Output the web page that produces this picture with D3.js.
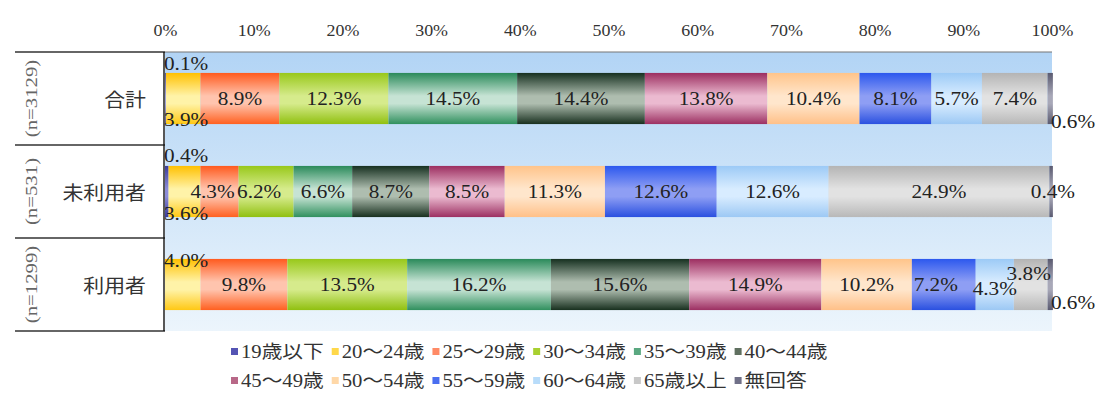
<!DOCTYPE html>
<html><head><meta charset="utf-8">
<script src="https://cdn.jsdelivr.net/npm/d3@7"></script>
<style>body{margin:0;background:#fff}svg{display:block}</style>
</head><body><svg id="c" width="1097" height="397"></svg>
<script>
// ---- data ----
const categories = ["合計", "未利用者", "利用者"];
const sampleSizes = ["(n=3129)", "(n=531)", "(n=1299)"];
const seriesNames = ["19歳以下", "20～24歳", "25～29歳", "30～34歳", "35～39歳", "40～44歳",
                     "45～49歳", "50～54歳", "55～59歳", "60～64歳", "65歳以上", "無回答"];
const totalValues   = [0.1, 3.9, 8.9, 12.3, 14.5, 14.4, 13.8, 10.4, 8.1, 5.7, 7.4, 0.6];
const nonUserValues = [0.4, 3.6, 4.3, 6.2, 6.6, 8.7, 8.5, 11.3, 12.6, 12.6, 24.9, 0.4];
const userValues    = [0.0, 4.0, 9.8, 13.5, 16.2, 15.6, 14.9, 10.2, 7.2, 4.3, 3.8, 0.6];
const tickValues = [0, 10, 20, 30, 40, 50, 60, 70, 80, 90, 100];
const tickLabels = ["0%", "10%", "20%", "30%", "40%", "50%", "60%", "70%", "80%", "90%", "100%"];

// ---- styles ----
const gradStops = [
  ["#3b3b9a", "#8c8cd8", "#3b3b9a"],
  ["#ffc000", "#fff3a8", "#ffc814"],
  ["#ff5a1e", "#ffc4ae", "#ff6020"],
  ["#98c81a", "#d6eb8c", "#90c010"],
  ["#2a8a5a", "#c6e3d4", "#30905e"],
  ["#163020", "#aebdaf", "#18301f"],
  ["#9c2e60", "#ebbad0", "#9c3062"],
  ["#ffc48a", "#ffe6cc", "#ffc088"],
  ["#2c58ee", "#8e9ef4", "#2a50e0"],
  ["#9ccaf6", "#d8ecff", "#9cc8f4"],
  ["#b4b4b4", "#e2e2e2", "#b8b8b8"],
  ["#5a5a70", "#a8a8b8", "#5a5a70"]
];
const legendColors = ["#5454b4", "#ffd84a", "#ff8a66", "#a8d030", "#5aa880", "#607060",
                      "#b86888", "#ffd8a8", "#4a6ef0", "#b8dcfa", "#c8c8c8", "#707088"];
// special label placements: [row, series, anchor, dx, dy]
const labelTweaks = [
  [0, 0, "start", null, -35], [0, 1, "start", null, 21], [0, 11, "start", null, 23],
  [1, 0, "start", null, -36], [1, 1, "start", null, 22], [1, 2, "middle", -7, 0], [1, 3, "middle", -7, 0],
  [2, 1, "start", null, -24], [2, 10, "middle", -2, -11], [2, 11, "start", null, 18],
  [2, 8, "middle", -8, 0], [2, 9, "middle", 0, 4]
];

const rows = [totalValues, nonUserValues, userValues];
const svg = d3.select("#c");
const pLeft = 165, pRight = 1052, pTop = 52, pBottom = 331;
const serif = "'Liberation Serif','Noto Sans CJK JP',serif";
const cjk = "'Noto Sans CJK JP','Noto Sans CJK SC',sans-serif";

const x = d3.scaleLinear().domain([0, 100]).range([pLeft, pRight]);
const y = d3.scaleBand().domain(categories).range([pTop, pBottom]).paddingInner(0.45).paddingOuter(0.225);

const defs = svg.append("defs");
const bg = defs.append("linearGradient").attr("id", "bg").attr("x1", 0).attr("y1", 0).attr("x2", 0).attr("y2", 1);
bg.append("stop").attr("offset", "0%").attr("stop-color", "#b2d4f5");
bg.append("stop").attr("offset", "100%").attr("stop-color", "#ecf5fc");
gradStops.forEach((s, i) => {
  const g = defs.append("linearGradient").attr("id", "g" + i).attr("x1", 0).attr("y1", 0).attr("x2", 0).attr("y2", 1);
  g.append("stop").attr("offset", "0%").attr("stop-color", s[0]);
  g.append("stop").attr("offset", "45%").attr("stop-color", s[1]);
  g.append("stop").attr("offset", "60%").attr("stop-color", s[1]);
  g.append("stop").attr("offset", "100%").attr("stop-color", s[2]);
});

// plot background
svg.append("rect").attr("x", pLeft).attr("y", pTop).attr("width", pRight - pLeft).attr("height", pBottom - pTop)
  .attr("fill", "url(#bg)");
svg.append("line").attr("x1", pLeft).attr("x2", pRight).attr("y1", pTop).attr("y2", pTop)
  .attr("stroke", "#777").attr("stroke-width", 1.2);

// top axis labels
const axis = d3.axisTop(x).tickValues(tickValues).tickFormat((d, i) => tickLabels[i]).tickSize(0).tickPadding(0);
const ax = svg.append("g").attr("transform", "translate(0,30)").call(axis);
ax.select(".domain").remove();
ax.selectAll(".tick text")
  .attr("font-family", serif).attr("font-size", 16).attr("fill", "#333")
  .attr("dy", "0.35em").attr("y", 0)
  .attr("transform", "scale(1.12,1)");

// stacked bars
const stacked = rows.map(vals => {
  let acc = 0;
  return vals.map((v, i) => { const s = acc; acc += v; return { s, e: acc, v, i }; });
});
stacked.forEach((segs, r) => {
  const g = svg.append("g");
  const yy = y(categories[r]);
  g.selectAll("rect").data(segs.filter(d => d.v > 0)).join("rect")
    .attr("x", d => x(d.s)).attr("y", yy)
    .attr("width", d => Math.max(x(d.e) - x(d.s), 0)).attr("height", y.bandwidth())
    .attr("fill", d => `url(#g${d.i})`);
});

// left table
const tbl = svg.append("g").attr("stroke", "#333").attr("stroke-width", 1.4);
const bounds = [pTop,
  (y(categories[0]) + y.bandwidth() + y(categories[1])) / 2,
  (y(categories[1]) + y.bandwidth() + y(categories[2])) / 2,
  pBottom];
bounds.forEach(b => tbl.append("line").attr("x1", 15).attr("x2", pLeft).attr("y1", b).attr("y2", b));
tbl.append("line").attr("x1", pLeft - 1).attr("x2", pLeft - 1).attr("y1", pTop).attr("y2", pBottom).attr("stroke", "#111");

categories.forEach((c, i) => {
  const cy = y(c) + y.bandwidth() / 2;
  svg.append("text")
    .attr("transform", `translate(146,${cy}) scale(1.1,1)`)
    .attr("text-anchor", "end").attr("dominant-baseline", "central")
    .attr("font-family", cjk).attr("font-size", 19).attr("fill", "#333").text(c);
  svg.append("text")
    .attr("transform", `translate(31,${cy}) rotate(-90) scale(1.3,1)`)
    .attr("text-anchor", "middle").attr("dominant-baseline", "central")
    .attr("font-family", serif).attr("font-size", 16).attr("fill", "#666").text(sampleSizes[i]);
});

// value labels
stacked.forEach((segs, r) => {
  const cy = y(categories[r]) + y.bandwidth() / 2;
  segs.forEach(d => {
    if (d.v <= 0) return;
    const tw = labelTweaks.find(t => t[0] === r && t[1] === d.i);
    let anchor = "middle", px = (x(d.s) + x(d.e)) / 2, py = cy;
    if (d.i === 11 && !tw) px = x(d.e);
    if (tw) {
      anchor = tw[2];
      if (anchor === "start") px = (d.i === 11 ? x(d.e) - 2 : x(0) - 1);
      else px += tw[3];
      py += tw[4];
    }
    svg.append("text")
      .attr("transform", `translate(${px},${py}) scale(1.18,1)`)
      .attr("text-anchor", anchor).attr("dominant-baseline", "central")
      .attr("font-family", serif).attr("font-size", 18).attr("fill", "#222")
      .text(d.v.toFixed(1) + "%");
  });
});

// legend
const legLines = [seriesNames.slice(0, 6), seriesNames.slice(6)];
const legY = [352, 381];
const legScale = 1.15, legGap = 8;
const leg = svg.append("g");
legLines.forEach((names, lineIdx) => {
  let cx = 231;
  names.forEach((n, k) => {
    const idx = lineIdx * 6 + k;
    leg.append("rect").attr("x", cx).attr("y", legY[lineIdx] - 4).attr("width", 7).attr("height", 7)
      .attr("fill", legendColors[idx]);
    const t = leg.append("text")
      .attr("transform", `translate(${cx + 10},${legY[lineIdx]}) scale(${legScale},1)`)
      .attr("dominant-baseline", "central").attr("font-family", serif).attr("font-size", 18)
      .attr("fill", "#333").text(n);
    cx += 10 + t.node().getComputedTextLength() * legScale + legGap;
  });
});
</script></body></html>
